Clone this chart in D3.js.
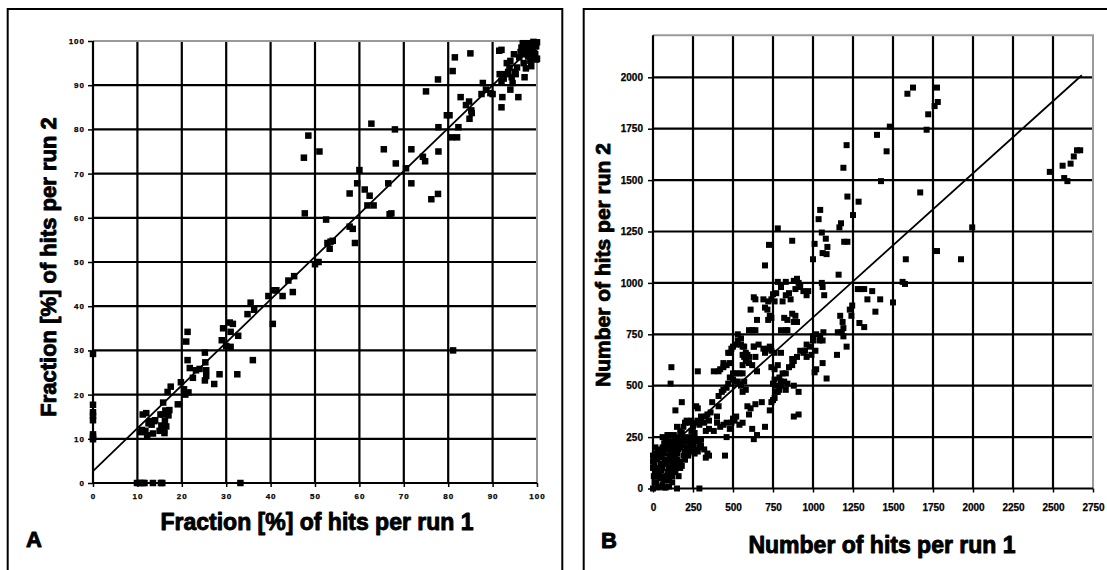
<!DOCTYPE html>
<html><head><meta charset="utf-8">
<script src="https://cdn.jsdelivr.net/npm/d3@7"></script>
<style>body{margin:0;background:#fff}svg{display:block}text{font-family:Arial,"Liberation Sans",sans-serif;font-weight:bold;fill:#000}</style>
</head><body>
<svg id="c" width="1107" height="570"></svg>
<script>
// ---------- Panel A data (fraction %) ----------
const aPts = [
[0,29.2],[0,17.7],[0,16],[0,15.2],[0,14.2],[0,11],[0,10.4],[0,9.9],
[9.9,0],[10.6,0],[11.2,0],[11.6,0],[13.5,0],[15.3,0],[15.6,0],[33.2,0],
[10.8,11.5],[11,12],[11.2,15.5],[11.8,11.8],[12,15.8],[12.2,10.8],[12.5,13.5],[12.8,14],[13.2,13.2],[13.5,11.2],[13.8,14],[14,14.2],[15,11.8],[15.2,15.5],[15.4,13],[15.7,15.5],[15.8,18.2],[16,12],[16.1,11.3],[16.2,14],[16.3,16.4],[16.5,12.8],[17,15.3],[17.2,16.5],[16.8,20.6],[17.5,21.8],[19.1,17.8],[19.8,22.8],[20.5,21.2],[20.8,20],[21,32],[21.3,34.2],[21.3,27.8],[21.5,20.5],[21.8,26],[22.5,23.8],[23.2,25.5],[24,25.8],[25.2,29.5],[25.2,23.2],[25.3,27.3],[25.5,24.2],[25.5,25.5],[27.3,22.4],[28.5,24.6],[29,32.3],[29.3,35],[30,31],[30.8,36.3],[31,34.2],[31,30.8],[31.5,36],[32.5,24.6],[32.7,33.3],[34.8,38.2],[35.5,40.8],[36,27.8],[36.3,39.2],[39.5,42.3],[40.5,36],[40.7,43.6],[41.3,43.6],[42.7,42.3],[44,45.8],[45,43.2],[45.3,46.8],[47.5,73.6],[47.7,61],[48.5,78.6],[50,49.5],[50.8,50],[51,75],[52.5,59.6],[52.8,54.3],[53.3,53],[53.5,54.6],[54,54.8],[57.8,65.5],[57.8,58],[58.5,57.5],[59,54.3],[59.5,67.8],[60,70.8],[61.2,66.4],[61.8,62.8],[62.3,65],[62.7,81.3],[63.2,62.8],[65.5,75.5],[66.5,67.8],[66.8,60.8],[67.2,61],[68,80],[68.2,72.3],[70.5,71.2],[71.7,75.5],[71.7,67.8],[74.3,73.8],[74.8,72.8],[75,88.6],[76.2,64.2],[77.7,65.4],[77.7,91.3],[77.8,75],[77.8,80.5],[79.7,83.2],[80.3,83.2],[80.8,78.2],[81.1,30],[81,93.2],[81.5,96.3],[82,78.2],[82.3,80.5],[82.8,87.3],[84,85.5],[84.7,86.3],[84.8,82.4],[85.2,84.3],[85,97.2],[85.3,83.7],[87.5,88],[87.8,90.5],[88.5,89],[89.5,88.2],[90,88],[91.5,97.8],[92,98],[91.6,92.5],[92,91],[92,85],[92.2,87.3],[92.5,91.5],[93,92.5],[93.2,95],[93.5,93],[93.8,94],[94,89],[94,95.5],[94.3,91.8],[94.5,90.5],[94.8,97],[95,93],[95.2,92.5],[95.5,94],[95.8,87.3],[96,96.3],[96.3,97.5],[96.5,98.5],[96.8,97],[97,95],[97,98],[97.2,91.8],[97.5,93.8],[97.5,99.2],[98,96.5],[98,99.5],[98.2,97.5],[98.5,95.5],[98.7,94.3],[98.8,99.5],[99,98.2],[99,96.5],[99.3,97.3],[99.5,99.5],[99.6,97],[99.8,95.8],[99.8,98.8],[100,99.7],[100,96],[96.8,99.5],[97.8,98.3],[99.2,99.8],[98.5,98.8]
];
const aFitX = [0, 100];
const aFitY = [2.7, 99.7];
const aTicks = [0,10,20,30,40,50,60,70,80,90,100];

// ---------- Panel B data (counts) ----------
const bPts = [
[1590,1920],[1625,1950],[1775,1950],[1780,1880],[1760,1860],[1720,1820],[1710,1745],[1480,1760],[1400,1720],[1460,1640],[1210,1670],[1190,1560],[1425,1495],[1215,1420],[1285,1395],[1250,1330],[1045,1355],[1035,1310],[1165,1270],[1175,1290],[1055,1245],[1080,1215],[1010,1190],[1090,1175],[1060,1145],[1085,1140],[1195,1200],[1215,1200],[870,1205],[780,1265],[725,1185],[700,1085],[1000,1115],[1160,1040],[1670,1440],[1580,1115],[1775,1155],[1995,1270],[1925,1115],[1560,1005],[1575,995],[1500,905],[2480,1540],[2560,1570],[2570,1510],[2590,1495],[2610,1580],[2630,1615],[2650,1645],[2670,1645],
[1300,970],[1320,970],[1280,970],[1370,960],[1340,920],[1420,920],[1390,860],[1245,890],[1230,870],[1240,840],[1290,805],[1320,785],[1170,840],[1185,810],[1190,780],[1180,760],[1190,740],[1155,760],[1210,690],[1150,650],[1065,760],[1045,740],[1060,720],[1040,720],[1020,750],[1000,740],[1000,720],[1015,670],[1020,580],[1010,565],[1060,610],[1085,535],[1070,940],[1060,980],[1055,1000],[970,960],[960,940],[940,960],[900,1020],[880,1010],[910,1000],[920,980],[890,970],[850,950],[830,1005],[800,980],[780,1005],[770,950],[750,945],[740,920],[760,910],[720,910],[690,920],[700,880],[715,870],[730,840],[740,830],[720,820],[650,820],[610,870],[630,930],[640,920],[600,770],[640,770],[660,700],[630,690],[720,680],[740,670],[730,690],[820,830],[840,820],[860,920],[870,850],[890,840],[880,810],[900,810],[840,770],[800,770],[830,770],[810,910],[830,940],
[950,670],[960,640],[920,670],[900,640],[880,620],[870,600],[850,590],[830,560],[820,520],[800,500],[790,480],[770,470],[760,440],[750,430],[740,420],[730,380],[780,600],[790,540],[760,530],[770,500],[750,510],[780,470],[800,520],[810,560],[760,580],[740,590],[760,660],[800,660],[700,660],[870,630],[880,500],[910,470],[910,360],[880,350],[840,510],[830,480],[960,700],[980,690],[940,660],[990,650],
[680,420],[700,300],[640,410],[650,260],[630,240],[620,290],[610,390],[600,360],[590,400],[570,520],[580,480],[560,470],[550,500],[560,320],[540,310],[520,350],[510,330],[500,340],[490,320],[480,290],[460,320],[450,160],[460,250],[440,310],[420,300],[410,400],[400,350],[400,320],[380,280],[370,420],[410,450],[430,470],[440,480],[460,490],[470,510],[480,540],[500,560],[520,560],[530,520],[540,560],[560,560],[560,600],[580,620],[590,650],[600,610],[580,660],[570,690],[550,700],[530,720],[520,700],[500,690],[490,680],[530,750],[550,730],[560,690],[570,640],[560,650],[480,660],[460,600],[440,610],[420,580],[410,570],[380,570],[470,660],[440,590],[480,610],[500,530],[510,520],[620,770],[600,640],[640,640],[650,570],[620,600],[690,680],[630,690],
[360,370],[340,360],[330,350],[350,330],[320,320],[300,330],[290,310],[280,390],[270,400],[250,300],[250,250],[240,330],[230,320],[220,250],[210,330],[200,320],[190,300],[180,270],[170,280],[340,170],[330,150],[350,160],[320,190],[300,240],[290,220],[280,570],[180,420],[140,380],[110,510],[115,590],[150,300],[160,250],[140,240],[130,220],[120,200],[110,180],[100,210],[95,230],[90,200],[80,190],[70,220],[60,250],[50,180],[40,170],[30,190],[20,170],[10,160],[5,140],[0,160],[0,130],[0,100],[10,110],[20,80],[30,60],[40,70],[50,90],[60,60],[70,40],[80,50],[90,80],[100,100],[110,90],[120,120],[130,130],[140,150],[150,170],[160,190],[170,200],[180,210],[190,220],[200,230],[210,200],[220,190],[230,210],[240,220],[250,200],[260,170],[270,190],[280,180],[290,200],[300,210],[40,10],[60,20],[70,5],[80,5],[20,30],[30,5],[150,0],[290,0],[0,0],[100,40],[120,60],[140,80],[160,110],[130,100],[110,70],[90,60],[150,140],[170,130],[180,110],[160,60],[170,100],[190,160],[200,180],[210,170],[220,160],[230,180],[240,190],[250,210],[260,230],[270,240],[200,140],[100,260],[120,230],[60,200],[70,170],[50,120],[35,100],[25,140],[15,200],[55,150],[75,140],[85,120],[95,140],[105,160],[115,150],[125,170],[135,190],[145,210],[155,220],[165,230],[175,240],[185,250],[130,260],[90,260],[80,240],[210,230],[230,240],[260,270],[330,280],[350,290],[280,330],[300,350],[260,320],[240,280],[150,190],[140,120],[120,30],[100,10],[60,100],[45,50],[10,30],[5,60]
];
const bFitX = [0, 2680];
const bFitY = [131, 2010];
const bXTicks = [0,250,500,750,1000,1250,1500,1750,2000,2250,2500,2750];
const bYTicks = [0,250,500,750,1000,1250,1500,1750,2000];

const svg = d3.select("#c");

// panel frames
svg.append("path").attr("d","M7.7,575V9H562.3V575").attr("fill","none").attr("stroke","#000").attr("stroke-width",2);
svg.append("path").attr("d","M583.7,575V9H1110").attr("fill","none").attr("stroke","#000").attr("stroke-width",2);

function panel(cfg){
  const g = svg.append("g");
  const x = d3.scaleLinear().domain(cfg.xd).range(cfg.xr);
  const y = d3.scaleLinear().domain(cfg.yd).range(cfg.yr);
  const [x0,x1] = cfg.xr, yTop = y(cfg.yMax), y0 = cfg.yr[0];
  g.selectAll(".vg").data(cfg.xTicks.filter(t=>t>cfg.xd[0] && t<cfg.xd[1])).join("line")
    .attr("x1",d=>x(d)).attr("x2",d=>x(d)).attr("y1",yTop).attr("y2",y0)
    .attr("stroke","#000").attr("stroke-width",2.2);
  g.selectAll(".hg").data(cfg.yTicks.filter(t=>t>cfg.yd[0] && t<=cfg.yMax && y(t)>yTop+1)).join("line")
    .attr("x1",x0).attr("x2",x1).attr("y1",d=>y(d)).attr("y2",d=>y(d))
    .attr("stroke","#000").attr("stroke-width",2.2);
  g.append("path").attr("d",`M${x0},${yTop}H${x1}V${y0}`).attr("fill","none").attr("stroke","#9a9a9a").attr("stroke-width",2);
  const ax = g.append("g").attr("transform",`translate(0,${y0})`)
    .call(d3.axisBottom(x).tickValues(cfg.xTicks).tickSize(4).tickPadding(cfg.xPad).tickFormat(d3.format("d")));
  const ay = g.append("g").attr("transform",`translate(${x0},0)`)
    .call(d3.axisLeft(y).tickValues(cfg.yTicks).tickSize(5).tickPadding(cfg.yPad).tickFormat(d3.format("d")));
  [ax,ay].forEach(a=>{
    a.select(".domain").attr("stroke","#000").attr("stroke-width",2.2);
    a.selectAll(".tick line").attr("stroke","#000").attr("stroke-width",1.5);
    a.selectAll("text").attr("font-size",cfg.tickFs).attr("font-family","Arial, 'Liberation Sans', sans-serif")
      .attr("font-weight","bold").attr("letter-spacing",cfg.ls).attr("fill","#000")
      .attr("stroke","#000").attr("stroke-width",0.25);
  });
  ay.select(".domain").attr("d",`M${0},${y0}V${yTop}`);
  ax.select(".domain").attr("d",`M${x0},0H${x1}`);
  g.append("line").attr("x1",x(cfg.fitX[0])).attr("y1",y(cfg.fitY[0])).attr("x2",x(cfg.fitX[1])).attr("y2",y(cfg.fitY[1]))
    .attr("stroke","#000").attr("stroke-width",1.8);
  const s = cfg.ms;
  g.selectAll(".pt").data(cfg.pts).join("rect")
    .attr("x",d=>x(d[0])-s/2).attr("y",d=>y(d[1])-s/2).attr("width",s).attr("height",s).attr("fill","#000");
  const heavy = t=>t.attr("stroke","#000").attr("stroke-width",0.9).attr("stroke-linejoin","round");
  svg.append("text").attr("x",cfg.xt[0]).attr("y",cfg.xt[1]).attr("text-anchor","middle").attr("font-size",cfg.xtFs).text(cfg.xTitle).call(heavy);
  svg.append("text").attr("transform",`translate(${cfg.yt[0]},${cfg.yt[1]}) rotate(-90)`).attr("text-anchor","middle").attr("font-size",cfg.ytFs).text(cfg.yTitle).call(heavy);
  svg.append("text").attr("x",cfg.lab[0]).attr("y",cfg.lab[1]).attr("text-anchor","middle").attr("font-size",22).text(cfg.label).call(heavy);
}

panel({xd:[0,100], xr:[93,537], yd:[0,100], yr:[483,41], yMax:100,
  xTicks:aTicks, yTicks:aTicks, tickFs:8, ls:1, xPad:6, yPad:3,
  fitX:aFitX, fitY:aFitY, pts:aPts, ms:6.5,
  xTitle:"Fraction [%] of hits per run 1", xt:[317,530], xtFs:23,
  yTitle:"Fraction [%] of hits per run 2", yt:[56,267], ytFs:22,
  label:"A", lab:[34,547]});

panel({xd:[0,2750], xr:[653,1093], yd:[0,2000], yr:[488.5,77.3], yMax:2205,
  xTicks:bXTicks, yTicks:bYTicks, tickFs:10, ls:0, xPad:11, yPad:5,
  fitX:bFitX, fitY:bFitY, pts:bPts, ms:6,
  xTitle:"Number of hits per run 1", xt:[882,553], xtFs:23,
  yTitle:"Number of hits per run 2", yt:[610,265], ytFs:21,
  label:"B", lab:[609,548]});
</script>
</body></html>
